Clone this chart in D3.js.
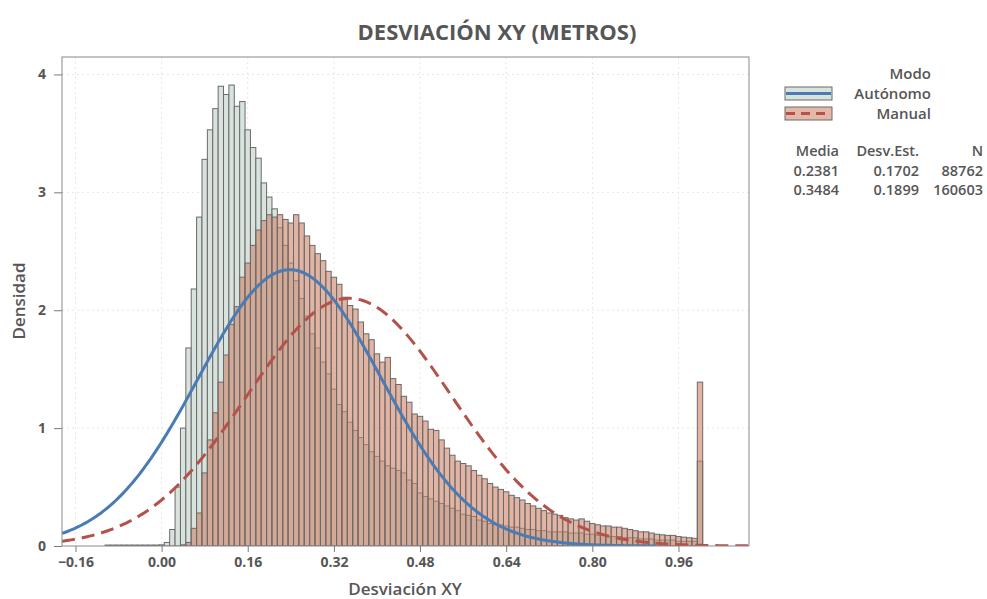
<!DOCTYPE html>
<html>
<head>
<meta charset="utf-8">
<script src="https://cdn.jsdelivr.net/npm/d3@7"></script>
<style>
  body { margin: 0; background: #fff; }
  text { font-family: "Open Sans", "Noto Sans", sans-serif; fill: #565656; }
</style>
</head>
<body>
<svg id="chart" width="987" height="599"></svg>
<script>
// Histogram bins: [bin centre, density], bin width 0.01
const binWidth = 0.01;

const autonomoBins = [
  [-0.10, 0.008], [-0.09, 0.008], [-0.08, 0.008], [-0.07, 0.008], [-0.06, 0.008],
  [-0.05, 0.008], [-0.04, 0.008], [-0.03, 0.008], [-0.02, 0.008], [-0.01, 0.008],
  [0.00, 0.01], [0.01, 0.03], [0.02, 0.14], [0.03, 0.50], [0.04, 1.00],
  [0.05, 1.68], [0.06, 2.18], [0.07, 2.79], [0.08, 3.28], [0.09, 3.53],
  [0.10, 3.71], [0.11, 3.90], [0.12, 3.83], [0.13, 3.91], [0.14, 3.73],
  [0.15, 3.77], [0.16, 3.53], [0.17, 3.38], [0.18, 3.29], [0.19, 3.08],
  [0.20, 2.96], [0.21, 2.86], [0.22, 2.70], [0.23, 2.55], [0.24, 2.40],
  [0.25, 2.25], [0.26, 2.10], [0.27, 1.95], [0.28, 1.80], [0.29, 1.68],
  [0.30, 1.56], [0.31, 1.46], [0.32, 1.33], [0.33, 1.20], [0.34, 1.14],
  [0.35, 1.05], [0.36, 0.98], [0.37, 0.92], [0.38, 0.86], [0.39, 0.80],
  [0.40, 0.76], [0.41, 0.72], [0.42, 0.68], [0.43, 0.66], [0.44, 0.64],
  [0.45, 0.62], [0.46, 0.56], [0.47, 0.53], [0.48, 0.45], [0.49, 0.42],
  [0.50, 0.40], [0.51, 0.38], [0.52, 0.36], [0.53, 0.34], [0.54, 0.32],
  [0.55, 0.30], [0.56, 0.27], [0.57, 0.26], [0.58, 0.25], [0.59, 0.22],
  [0.60, 0.21], [0.61, 0.19], [0.62, 0.18], [0.63, 0.18], [0.64, 0.17],
  [0.65, 0.16], [0.66, 0.16], [0.67, 0.15], [0.68, 0.14], [0.69, 0.14],
  [0.70, 0.13], [0.71, 0.13], [0.72, 0.12], [0.73, 0.12], [0.74, 0.12],
  [0.75, 0.12], [0.76, 0.11], [0.77, 0.11], [0.78, 0.11], [0.79, 0.10],
  [0.80, 0.10], [0.81, 0.09], [0.82, 0.09], [0.83, 0.08], [0.84, 0.08],
  [0.85, 0.08], [0.86, 0.07], [0.87, 0.07], [0.88, 0.07], [0.89, 0.06],
  [0.90, 0.06], [0.91, 0.06], [0.92, 0.05], [0.93, 0.05], [0.94, 0.05],
  [0.95, 0.05], [0.96, 0.04], [0.97, 0.04], [0.98, 0.04], [0.99, 0.04],
  [1.00, 0.72]
];

const manualBins = [
  [0.04, 0.01], [0.05, 0.03], [0.06, 0.15], [0.07, 0.28], [0.08, 0.62],
  [0.09, 0.90], [0.10, 1.13], [0.11, 1.39], [0.12, 1.62], [0.13, 1.88],
  [0.14, 2.03], [0.15, 2.28], [0.16, 2.40], [0.17, 2.55], [0.18, 2.68],
  [0.19, 2.76], [0.20, 2.81], [0.21, 2.79], [0.22, 2.81], [0.23, 2.77],
  [0.24, 2.74], [0.25, 2.81], [0.26, 2.74], [0.27, 2.63], [0.28, 2.55],
  [0.29, 2.48], [0.30, 2.42], [0.31, 2.33], [0.32, 2.28], [0.33, 2.22],
  [0.34, 2.11], [0.35, 2.04], [0.36, 2.01], [0.37, 1.90], [0.38, 1.80],
  [0.39, 1.75], [0.40, 1.63], [0.41, 1.56], [0.42, 1.60], [0.43, 1.42],
  [0.44, 1.37], [0.45, 1.27], [0.46, 1.22], [0.47, 1.12], [0.48, 1.10],
  [0.49, 1.06], [0.50, 0.99], [0.51, 0.98], [0.52, 0.90], [0.53, 0.83],
  [0.54, 0.77], [0.55, 0.72], [0.56, 0.70], [0.57, 0.68], [0.58, 0.64],
  [0.59, 0.60], [0.60, 0.57], [0.61, 0.53], [0.62, 0.50], [0.63, 0.48],
  [0.64, 0.46], [0.65, 0.43], [0.66, 0.41], [0.67, 0.39], [0.68, 0.36],
  [0.69, 0.34], [0.70, 0.32], [0.71, 0.30], [0.72, 0.28], [0.73, 0.27],
  [0.74, 0.26], [0.75, 0.24], [0.76, 0.23], [0.77, 0.22], [0.78, 0.23],
  [0.79, 0.21], [0.80, 0.19], [0.81, 0.18], [0.82, 0.17], [0.83, 0.17],
  [0.84, 0.16], [0.85, 0.16], [0.86, 0.15], [0.87, 0.14], [0.88, 0.13],
  [0.89, 0.12], [0.90, 0.12], [0.91, 0.11], [0.92, 0.10], [0.93, 0.095],
  [0.94, 0.09], [0.95, 0.09], [0.96, 0.08], [0.97, 0.075], [0.98, 0.07],
  [0.99, 0.065], [1.00, 1.39]
];

// Fitted normal parameters per mode
const modes = ["Autónomo", "Manual"];
const means = [0.2381, 0.3484];
const stdDevs = [0.1702, 0.1899];
const counts = [88762, 160603];

const xTicks = [-0.16, 0.00, 0.16, 0.32, 0.48, 0.64, 0.80, 0.96];
const yTicks = [0, 1, 2, 3, 4];

const svg = d3.select("#chart");
const plot = { left: 62, right: 749, top: 57, bottom: 546 };

const x = d3.scaleLinear().domain([-0.185, 1.091]).range([plot.left, plot.right]);
const y = d3.scaleLinear().domain([0, 4.148]).range([plot.bottom, plot.top]);

const colors = {
  autonomoFill: "#d8e3dd",
  manualFill: "rgba(206,130,104,0.6)",
  barStroke: "#6a6a6a",
  blue: "#4a7bb4",
  red: "#b4524a",
  text: "#565656"
};

// Title
svg.append("text")
  .attr("x", 497).attr("y", 40)
  .attr("text-anchor", "middle")
  .style("font-size", "22px").style("font-weight", 700)
  .text("DESVIACIÓN XY (METROS)");

// Faint gridlines
const grid = svg.append("g");
grid.selectAll(".gx").data(xTicks).join("line")
  .attr("x1", d => x(d)).attr("x2", d => x(d))
  .attr("y1", plot.top).attr("y2", plot.bottom)
  .attr("stroke", "#e6e6e6").attr("stroke-dasharray", "2,3");
grid.selectAll(".gy").data(yTicks.filter(d => d > 0)).join("line")
  .attr("x1", plot.left).attr("x2", plot.right)
  .attr("y1", d => y(d)).attr("y2", d => y(d))
  .attr("stroke", "#e6e6e6").attr("stroke-dasharray", "2,3");

svg.append("clipPath").attr("id", "plotClip")
  .append("rect")
  .attr("x", plot.left).attr("y", plot.top)
  .attr("width", plot.right - plot.left).attr("height", plot.bottom - plot.top);

const inner = svg.append("g").attr("clip-path", "url(#plotClip)");

function drawBars(bins, fill) {
  inner.append("g").selectAll("rect").data(bins).join("rect")
    .attr("x", d => x(d[0] - binWidth / 2))
    .attr("width", d => x(d[0] + binWidth / 2) - x(d[0] - binWidth / 2))
    .attr("y", d => y(d[1]))
    .attr("height", d => y(0) - y(d[1]))
    .attr("fill", fill)
    .attr("stroke", colors.barStroke)
    .attr("stroke-width", 1);
}
drawBars(autonomoBins, colors.autonomoFill);
drawBars(manualBins, colors.manualFill);

// Fitted normal curves
function normalPdf(v, mu, sd) {
  return Math.exp(-0.5 * ((v - mu) / sd) ** 2) / (sd * Math.sqrt(2 * Math.PI));
}
const line = d3.line().x(d => x(d[0])).y(d => y(d[1]));
const curveStyles = [
  { color: colors.blue, dash: null },
  { color: colors.red, dash: "13,7" }
];
modes.forEach((m, i) => {
  const lo = Math.max(x.domain()[0], means[i] - 4 * stdDevs[i]);
  const hi = Math.min(x.domain()[1], means[i] + 4 * stdDevs[i]);
  const pts = d3.range(lo, hi + 1e-9, (hi - lo) / 300)
    .map(v => [v, normalPdf(v, means[i], stdDevs[i])]);
  const p = inner.append("path").datum(pts)
    .attr("d", line)
    .attr("fill", "none")
    .attr("stroke", curveStyles[i].color)
    .attr("stroke-width", 3);
  if (curveStyles[i].dash) p.attr("stroke-dasharray", curveStyles[i].dash);
});

// Frame
svg.append("rect")
  .attr("x", plot.left).attr("y", plot.top)
  .attr("width", plot.right - plot.left).attr("height", plot.bottom - plot.top)
  .attr("fill", "none").attr("stroke", "#8a8a8a");

// Axes
const xAxis = svg.append("g")
  .attr("transform", `translate(0,${plot.bottom})`)
  .call(d3.axisBottom(x).tickValues(xTicks).tickFormat(d3.format(".2f")).tickSize(6).tickPadding(5));
const yAxis = svg.append("g")
  .attr("transform", `translate(${plot.left},0)`)
  .call(d3.axisLeft(y).tickValues(yTicks).tickFormat(d3.format("d")).tickSize(8).tickPadding(8));
[xAxis, yAxis].forEach(a => {
  a.select(".domain").remove();
  a.selectAll(".tick line").attr("stroke", "#7a7a7a");
  a.selectAll(".tick text")
    .attr("fill", colors.text)
    .style("font-size", "14px").style("font-weight", 700)
    .style("font-family", "'Open Sans','Noto Sans',sans-serif");
});

// Axis titles
svg.append("text")
  .attr("x", 405).attr("y", 595)
  .attr("text-anchor", "middle")
  .style("font-size", "17px").style("font-weight", 600)
  .text("Desviación XY");
svg.append("text")
  .attr("transform", "translate(25,301) rotate(-90)")
  .attr("text-anchor", "middle")
  .style("font-size", "17px").style("font-weight", 600)
  .text("Densidad");

// Legend
const legend = svg.append("g");
legend.append("text")
  .attr("x", 931).attr("y", 79).attr("text-anchor", "end")
  .style("font-size", "15px").style("font-weight", 600)
  .text("Modo");
const swatchFills = [colors.autonomoFill, "#e4b8a9"];
modes.forEach((m, i) => {
  const yy = 87 + i * 20;
  legend.append("rect")
    .attr("x", 785).attr("y", yy).attr("width", 47).attr("height", 13)
    .attr("fill", swatchFills[i]).attr("stroke", colors.barStroke);
  const l = legend.append("line")
    .attr("x1", 786).attr("x2", 831)
    .attr("y1", yy + 6.5).attr("y2", yy + 6.5)
    .attr("stroke", curveStyles[i].color).attr("stroke-width", 3);
  if (curveStyles[i].dash) l.attr("stroke-dasharray", "9,6");
  legend.append("text")
    .attr("x", 931).attr("y", yy + 12).attr("text-anchor", "end")
    .style("font-size", "15px").style("font-weight", 600)
    .text(m);
});

// Summary table
const colRight = [839, 919, 983];
const headers = ["Media", "Desv.Est.", "N"];
headers.forEach((h, j) => {
  legend.append("text")
    .attr("x", colRight[j]).attr("y", 156).attr("text-anchor", "end")
    .style("font-size", "14.5px").style("font-weight", 600)
    .text(h);
});
modes.forEach((m, i) => {
  const row = [d3.format(".4f")(means[i]), d3.format(".4f")(stdDevs[i]), String(counts[i])];
  row.forEach((v, j) => {
    legend.append("text")
      .attr("x", colRight[j]).attr("y", 176 + i * 19).attr("text-anchor", "end")
      .style("font-size", "14.5px").style("font-weight", 600)
      .text(v);
  });
});
</script>
</body>
</html>
